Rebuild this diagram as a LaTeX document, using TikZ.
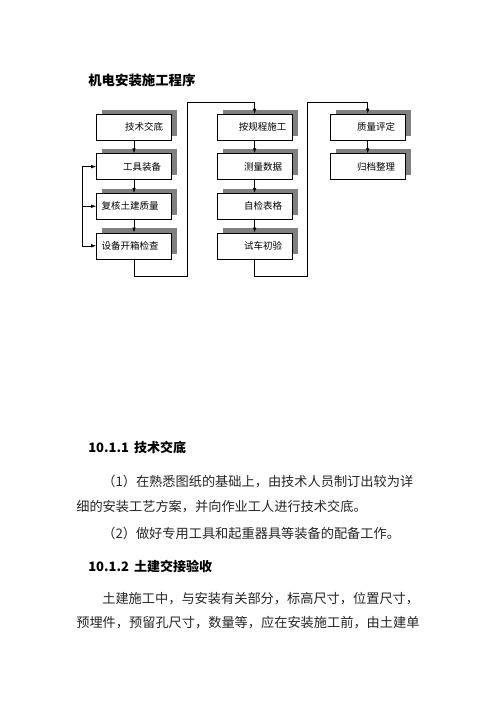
\documentclass[tikz,border=0pt]{standalone}
\usepackage{fontspec}
\setmainfont{Noto Sans CJK SC}
\usetikzlibrary{arrows.meta,positioning,shadows}

\tikzset{
  procbox/.style={draw, fill=white, line width=0.6pt, minimum width=75pt, minimum height=26pt,
    inner sep=0pt, font=\fontsize{9.5}{10}\selectfont,
    drop shadow={shadow xshift=5.5pt, shadow yshift=4.5pt, fill=black!50, opacity=1}},
  bodyline/.style={anchor=west, inner sep=0pt, text=black!85, font=\fontsize{13.2}{14}\selectfont},
  headline/.style={anchor=west, inner sep=0pt, font=\bfseries\fontsize{13}{14}\selectfont}
}

\begin{document}
\begin{tikzpicture}[x=1pt, y=-1pt, >={Latex[length=5pt,width=3.5pt]}, line width=0.6pt]
\fill[white] (0,0) rectangle (496,702);
\useasboundingbox (0,0) rectangle (496,702);

% title
\node[headline, font=\bfseries\fontsize{13.4}{14}\selectfont] (title) at (88,80) {机电安装施工程序};

% first column
\node[procbox] (b1) at (134,127) {\hspace*{20pt}技术交底};
\node[procbox, below=13pt of b1] (b2) {\hspace*{16pt}工具装备};
\node[procbox, below=13pt of b2] (b3) {复核土建质量\hspace*{8pt}};
\node[procbox, below=13pt of b3] (b4) {设备开箱检查\hspace*{8pt}};

% second column
\node[procbox, right=45pt of b1] (b5) {\hspace*{16pt}按规程施工};
\node[procbox, below=13pt of b5] (b6) {\hspace*{17pt}测量数据};
\node[procbox, below=13pt of b6] (b7) {\hspace*{17pt}自检表格};
\node[procbox, below=13pt of b7] (b8) {\hspace*{17pt}试车初验};

% third column
\node[procbox, right=37.5pt of b5] (b9) {\hspace*{17pt}质量评定};
\node[procbox, below=13pt of b9] (b10) {\hspace*{17pt}归档整理};

\draw[->] (b1) -- (b2);
\draw[->] (b2) -- (b3);
\draw[->] (b3) -- (b4);
\draw[->] (b5) -- (b6);
\draw[->] (b6) -- (b7);
\draw[->] (b7) -- (b8);
\draw[->] (b9) -- (b10);

% feedback on the left
\coordinate (fbtop) at ([xshift=-14pt]b2.west);
\coordinate (fbmid) at ([xshift=-14pt]b3.west);
\coordinate (fbbot) at ([xshift=-14pt]b4.west);
\draw (fbtop) -- (fbbot);
\draw[->] (fbtop) -- (b2.west);
\draw[->] (fbmid) -- (b3.west);
\draw[->] (fbbot) -- (b4.west);

% links between columns
\coordinate (low1) at (187,276);
\coordinate (high1) at (187,102);
\coordinate (low2) at (307,276);
\coordinate (high2) at (307,102);
\draw[->] (b4.south) |- (low1) -- (high1) -| (b5.north);
\draw[->] (b8.south) |- (low2) -- (high2) -| (b9.north);

% text below
\node[headline] (h1) at (88,447) {10.1.1\hspace{5pt}技术交底};
\node[bodyline] (p1) at (102,482) {（1）在熟悉图纸的基础上，由技术人员制订出较为详};
\node[bodyline] (p2) at (76,507) {细的安装工艺方案，并向作业工人进行技术交底。};
\node[bodyline] (p3) at (102,533) {（2）做好专用工具和起重器具等装备的配备工作。};
\node[headline] (h2) at (88,566) {10.1.2\hspace{5pt}土建交接验收};
\node[bodyline] (p4) at (102,599) {土建施工中，与安装有关部分，标高尺寸，位置尺寸，};
\node[bodyline] (p5) at (76,623) {预埋件，预留孔尺寸，数量等，应在安装施工前，由土建单};
\end{tikzpicture}
\end{document}
